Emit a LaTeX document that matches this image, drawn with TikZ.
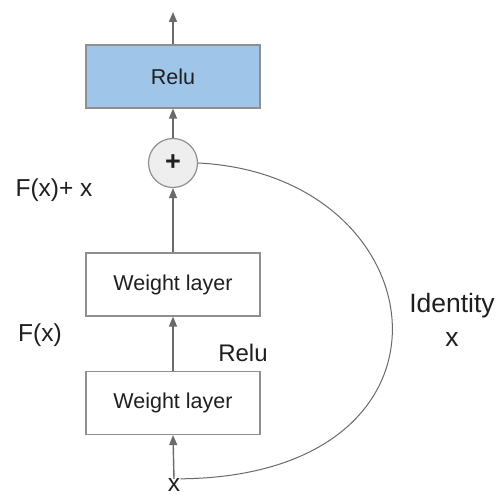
\documentclass[tikz,border=0pt]{standalone}
\usepackage{fontspec}
\setmainfont{Liberation Sans}
\usepackage{xcolor}
\usetikzlibrary{arrows.meta}
\definecolor{relublue}{HTML}{9FC5E8}
\definecolor{addgray}{HTML}{EEEEEE}
\definecolor{edgegray}{HTML}{6A6A6A}
\definecolor{inkgray}{HTML}{1F1F1F}

\begin{document}
\begin{tikzpicture}[x=1pt,y=-1pt,
  layer/.style={draw=edgegray!75,line width=1.2pt,minimum width=174pt,minimum height=63pt,
    text=inkgray,font=\fontsize{21.5}{26}\selectfont},
  flow/.style={draw=edgegray,line width=1.4pt,-{Triangle[length=10pt,width=8pt]}},
  lbl/.style={text=inkgray,font=\fontsize{24.5}{30}\selectfont}]
\useasboundingbox[fill=white](0,0)rectangle(499,497);

\node[layer,fill=relublue](relu)at(173,76.5){Relu};
\node[circle,draw=edgegray!75,line width=1.2pt,fill=addgray,minimum size=49pt,inner sep=0pt,
  text=inkgray,font=\fontsize{27}{30}\selectfont\bfseries](add)at(173,163){+};
\node[layer](wtop)at(173,284.5){Weight layer};
\node[layer](wbot)at(173,403){Weight layer};
\node[lbl,inner sep=0pt](xin)at(174,485.5){x};
\coordinate(out)at(173,12);

\draw[flow](relu.north)--(out);
\draw[flow](add.north)--(relu.south);
\draw[flow](wtop.north)--(add.south);
\draw[flow](wbot.north)--(wtop.south);
\draw[flow](xin.north)--(wbot.south);
\draw[edgegray,line width=1pt](add.east)..controls(440,175)and(480,476)..(xin.north east);

\path
(54,190)node[lbl]{F(x)+ x}
(40,335)node[lbl]{F(x)}
(243,353)node[lbl,font=\fontsize{24}{30}\selectfont]{Relu}
(452,320)node[lbl,align=center,font=\fontsize{26.5}{34}\selectfont]{Identity\\x};
\end{tikzpicture}
\end{document}
